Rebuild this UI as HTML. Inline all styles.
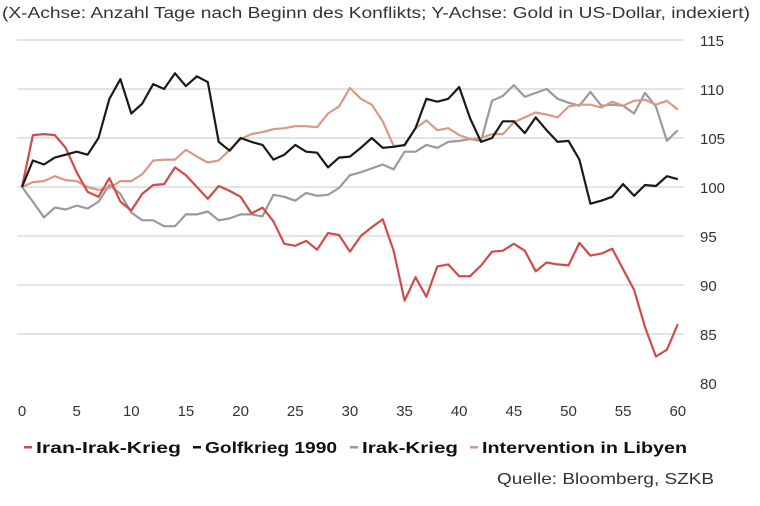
<!DOCTYPE html>
<html><head><meta charset="utf-8">
<style>
html,body{margin:0;padding:0;background:#fff;}
body{width:760px;height:501px;overflow:hidden;font-family:"Liberation Sans",sans-serif;}
svg text{font-family:"Liberation Sans",sans-serif;}
</style></head>
<body>
<svg id="c" width="760" height="501" viewBox="0 0 760 501" xmlns="http://www.w3.org/2000/svg">
<text x="2" y="18" font-size="15.5" fill="#333" textLength="748" lengthAdjust="spacingAndGlyphs">(X-Achse: Anzahl Tage nach Beginn des Konflikts; Y-Achse: Gold in US-Dollar, indexiert)</text>
<g id="grid"></g>
<g id="lines" fill="none" stroke-width="2.2" stroke-linejoin="round"></g>
<g font-size="15.5" font-weight="bold" fill="#111">
<rect x="24" y="446" width="8" height="2.5" fill="#d24a4a"/>
<text x="36" y="453" textLength="145" lengthAdjust="spacingAndGlyphs">Iran-Irak-Krieg</text>
<rect x="193" y="446" width="8" height="2.5" fill="#111"/>
<text x="205" y="453" textLength="132" lengthAdjust="spacingAndGlyphs">Golfkrieg 1990</text>
<rect x="350" y="446" width="8" height="2.5" fill="#999"/>
<text x="362" y="453" textLength="96" lengthAdjust="spacingAndGlyphs">Irak-Krieg</text>
<rect x="470" y="446" width="8" height="2.5" fill="#d99a82"/>
<text x="482" y="453" textLength="205" lengthAdjust="spacingAndGlyphs">Intervention in Libyen</text>
</g>
<text x="497" y="484" font-size="16" fill="#333" textLength="217" lengthAdjust="spacingAndGlyphs">Quelle: Bloomberg, SZKB</text>
</svg>
<script>
var NS="http://www.w3.org/2000/svg";
function el(t,a,p){var e=document.createElementNS(NS,t);for(var k in a)e.setAttribute(k,a[k]);p.appendChild(e);return e;}
var g=document.getElementById('grid'),L=document.getElementById('lines'),s=document.getElementById('c');
function X(d){return 22+d*10.93;}
function Y(v){return 40+(115-v)*9.8;}
for(var v=80;v<=115;v+=5){
 if(v>80) el('line',{x1:17,x2:684,y1:Y(v),y2:Y(v),stroke:'#dcdcdc','stroke-width':1.5},g);
 var t=el('text',{x:700,y:Y(v)+6,'font-size':15,fill:'#333'},g);t.textContent=v;
}
for(var d=0;d<=60;d+=5){var t=el('text',{x:X(d),y:416,'font-size':15,fill:'#333','text-anchor':'middle'},g);t.textContent=d;}
var gray=[100,98.5,96.9,97.9,97.7,98.1,97.8,98.5,100.2,99.3,97.4,96.6,96.6,96,96,97.2,97.2,97.5,96.6,96.8,97.2,97.2,97,99.2,99,98.6,99.4,99.1,99.2,99.9,101.2,101.5,101.9,102.3,101.8,103.6,103.6,104.3,104,104.6,104.7,104.9,104.7,108.8,109.3,110.4,109.2,109.6,110,109,108.6,108.3,109.7,108.3,108.4,108.3,107.5,109.6,108.2,104.7,105.8];
var lib=[100,100.5,100.6,101.1,100.7,100.6,100,99.7,99.9,100.6,100.6,101.3,102.7,102.8,102.8,103.8,103.1,102.5,102.7,103.8,104.9,105.4,105.6,105.9,106,106.2,106.2,106.1,107.5,108.2,110.1,109,108.4,106.7,104.2,104.2,106,106.8,105.8,106,105.3,104.9,105,105.4,105.4,106.6,107.1,107.6,107.4,107.1,108.2,108.4,108.4,108.1,108.7,108.3,108.8,108.9,108.4,108.8,107.9];
var red=[100,105.3,105.4,105.3,104,101.5,99.5,99,100.9,98.5,97.6,99.3,100.2,100.3,102,101.2,100,98.8,100.1,99.6,99,97.3,97.9,96.5,94.2,94,94.5,93.6,95.3,95.1,93.4,95,95.9,96.7,93.5,88.4,90.8,88.8,91.9,92.1,90.9,90.9,92,93.4,93.5,94.2,93.5,91.4,92.3,92.1,92,94.3,93,93.2,93.7,91.6,89.5,85.7,82.7,83.4,86];
var blk=[100,102.7,102.3,103,103.3,103.6,103.3,105,109,111,107.5,108.5,110.5,110,111.6,110.3,111.3,110.7,104.6,103.7,105,104.6,104.3,102.8,103.3,104.3,103.6,103.5,102,103,103.1,104,105,104,104.1,104.3,106,109,108.7,109,110.2,107,104.6,105,106.7,106.7,105.5,107.1,105.8,104.6,104.7,102.8,98.3,98.6,99,100.3,99.1,100.2,100.1,101.1,100.8];
function line(a,c){el('polyline',{points:a.map(function(v,i){return X(i).toFixed(1)+','+Y(v).toFixed(1)}).join(' '),stroke:c},L);}
line(gray,'#9a9a9a');line(lib,'#d99a82');line(red,'#d24a4a');line(blk,'#1a1a1a');
</script>
</body></html>
